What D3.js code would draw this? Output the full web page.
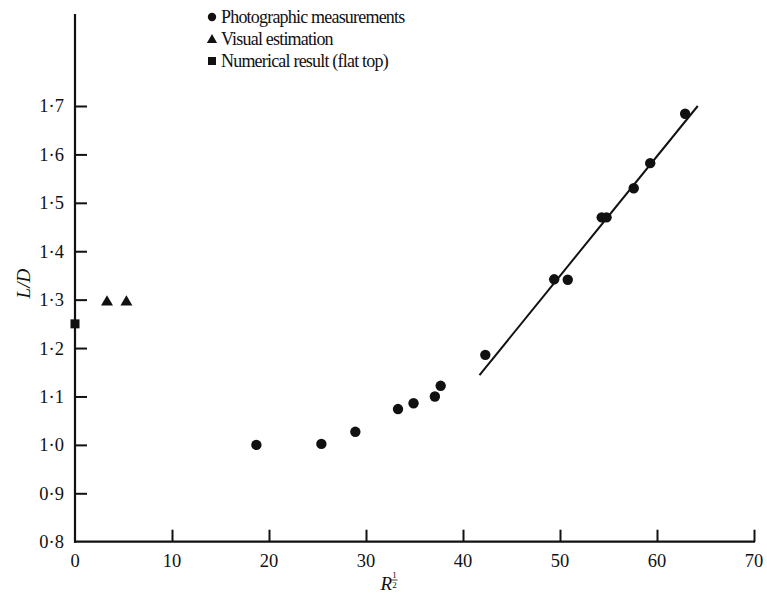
<!DOCTYPE html>
<html>
<head>
<meta charset="utf-8">
<script src="https://cdn.jsdelivr.net/npm/d3@7"></script>
<style>
  html, body { margin: 0; padding: 0; background: #fff; }
  svg { display: block; }
  text { font-family: "Liberation Serif", "DejaVu Serif", serif; fill: #111; }
</style>
</head>
<body>
<svg id="chart" width="767" height="601"></svg>
<script>
// ---- data ----
const photoX = [18.7, 25.4, 28.9, 33.3, 34.9, 37.1, 37.7, 42.3, 49.4, 50.8, 54.3, 54.8, 57.6, 59.3, 62.9];
const photoY = [1.000, 1.002, 1.027, 1.074, 1.086, 1.100, 1.122, 1.186, 1.342, 1.341, 1.470, 1.470, 1.530, 1.582, 1.684];
const visualX = [3.3, 5.3];
const visualY = [1.295, 1.295];
const numericalX = [0];
const numericalY = [1.25];
const fitX = [41.7, 64.2];
const fitY = [1.144, 1.700];
const xTicks = [0, 10, 20, 30, 40, 50, 60, 70];
const yTicks = [0.8, 0.9, 1.0, 1.1, 1.2, 1.3, 1.4, 1.5, 1.6, 1.7];
const legendLabels = ["Photographic measurements", "Visual estimation", "Numerical result (flat top)"];

// ---- layout ----
const svg = d3.select("#chart");
const x = d3.scaleLinear().domain([0, 70]).range([75, 754]);
const y = d3.scaleLinear().domain([0.8, 1.7]).range([541.7, 106]);
const yTop = 1.89;
const ink = "#111";
const fmt = d => d3.format(".1f")(d).replace(".", "\u00B7");

// left axis
const yAxis = d3.axisRight(y).tickValues(yTicks.filter(d => d > 0.8)).tickSize(12).tickFormat("");
const gy = svg.append("g").attr("transform", `translate(${x(0)},0)`).call(yAxis);
gy.select(".domain").remove();
gy.selectAll(".tick line").attr("stroke", ink).attr("stroke-width", 2);
svg.append("line").attr("x1", x(0)).attr("x2", x(0)).attr("y1", y(0.8) + 1).attr("y2", y(yTop))
  .attr("stroke", ink).attr("stroke-width", 2.2);

// y tick labels
svg.append("g").selectAll("text").data(yTicks).join("text")
  .attr("x", x(0) - 11).attr("y", d => y(d)).attr("dy", "0.35em")
  .attr("text-anchor", "end").attr("font-size", 18.5).text(fmt);

// bottom axis
const xAxis = d3.axisTop(x).tickValues(xTicks.filter(d => d > 0)).tickSize(12).tickFormat("");
const gx = svg.append("g").attr("transform", `translate(0,${y(0.8)})`).call(xAxis);
gx.select(".domain").remove();
gx.selectAll(".tick line").attr("stroke", ink).attr("stroke-width", 2);
svg.append("line").attr("x1", x(0) - 1).attr("x2", x(70) + 1).attr("y1", y(0.8)).attr("y2", y(0.8))
  .attr("stroke", ink).attr("stroke-width", 2.2);

// x tick labels
svg.append("g").selectAll("text").data(xTicks).join("text")
  .attr("x", d => x(d)).attr("y", y(0.8) + 25)
  .attr("text-anchor", "middle").attr("font-size", 18.5).text(d => d);

// axis titles
const yl = svg.append("text").attr("transform", `translate(30,${y(1.3) - 16}) rotate(-90)`)
  .attr("text-anchor", "middle").attr("font-size", 19).attr("font-style", "italic");
yl.text("L/D");

const xl = svg.append("text").attr("x", x(31.5)).attr("y", 590).attr("font-size", 19).attr("font-style", "italic");
xl.append("tspan").text("R");
svg.append("text").attr("x", x(31.5) + 14).attr("y", 578).attr("font-size", 9).attr("text-anchor", "middle").text("1");
svg.append("line").attr("x1", x(31.5) + 11).attr("x2", x(31.5) + 17).attr("y1", 580).attr("y2", 580).attr("stroke", ink).attr("stroke-width", 0.8);
svg.append("text").attr("x", x(31.5) + 14).attr("y", 588).attr("font-size", 9).attr("text-anchor", "middle").text("2");

// fit line
svg.append("path")
  .datum(fitX.map((d, i) => [d, fitY[i]]))
  .attr("d", d3.line().x(d => x(d[0])).y(d => y(d[1])))
  .attr("stroke", ink).attr("stroke-width", 2).attr("fill", "none");

// points
svg.append("g").selectAll("circle").data(photoX.map((d, i) => [d, photoY[i]])).join("circle")
  .attr("cx", d => x(d[0])).attr("cy", d => y(d[1])).attr("r", 5.2).attr("fill", ink);

const tri = d3.symbol().type(d3.symbolTriangle).size(62);
svg.append("g").selectAll("path").data(visualX.map((d, i) => [d, visualY[i]])).join("path")
  .attr("transform", d => `translate(${x(d[0])},${y(d[1])})`).attr("d", tri).attr("fill", ink);

svg.append("g").selectAll("rect").data(numericalX.map((d, i) => [d, numericalY[i]])).join("rect")
  .attr("x", d => x(d[0]) - 4.5).attr("y", d => y(d[1]) - 4.5).attr("width", 9).attr("height", 9).attr("fill", ink);

// legend
const lg = svg.append("g").attr("transform", "translate(212,0)");
const rowY = [17, 39, 61];
lg.append("circle").attr("cx", 0).attr("cy", rowY[0]).attr("r", 4.2).attr("fill", ink);
lg.append("path").attr("transform", `translate(0,${rowY[1] + 1})`).attr("d", d3.symbol().type(d3.symbolTriangle).size(45)).attr("fill", ink);
lg.append("rect").attr("x", -4).attr("y", rowY[2] - 4).attr("width", 8).attr("height", 8).attr("fill", ink);
lg.selectAll("text.lab").data(legendLabels).join("text").attr("class", "lab")
  .attr("x", 9).attr("y", (d, i) => rowY[i]).attr("dy", "0.35em").attr("font-size", 18).attr("letter-spacing", -0.8).text(d => d);
</script>
</body>
</html>
